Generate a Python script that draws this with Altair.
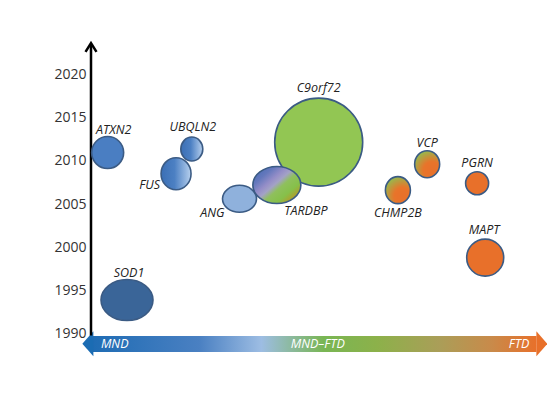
import altair as alt
import pandas as pd

# ---- data ----
genes = ["SOD1", "ATXN2", "FUS", "UBQLN2", "ANG", "C9orf72", "TARDBP", "CHMP2B", "VCP", "PGRN", "MAPT"]
spectrum = [8.0, 3.7, 18.9, 22.4, 33.0, 50.6, 41.3, 68.2, 74.7, 85.8, 87.6]   # MND (0) -> FTD (100)
year = [1993.9, 2010.95, 2008.5, 2011.35, 2005.6, 2012.15, 2007.2, 2006.6, 2009.6, 2007.4, 1998.8]
bubble_w = [52, 32, 30, 22, 34, 88, 48, 25, 25, 23, 37]
bubble_h = [41, 32, 32, 24, 27, 88, 37, 27, 27, 23, 37]
fill_key = ["sod1", "blue", "blue_grad", "blue_grad", "light", "green", "tardbp", "go_grad", "go_grad", "orange", "orange"]

label_dx = [2, 6, -16, 1, -15, 0, 29, 0, 0, 0, -1]
label_dy = [-27, -23, 11, -22, 14, -54, 26, 23, -21, -20, -28]
label_align = ["center", "center", "right", "center", "right", "center", "center", "center", "center", "center", "center"]

tick_years = [1990, 1995, 2000, 2005, 2010, 2015, 2020]
bar_labels = ["MND", "MND–FTD", "FTD"]
bar_label_x = [2.2, 50.4, 97.4]
bar_label_align = ["left", "center", "right"]

# ---- styles ----
solid_fill = {"sod1": "#3a6598", "blue": "#4a7ec2", "light": "#8fb1dc", "green": "#92c653", "orange": "#e8702a"}
grad_fill = {
    "blue_grad": alt.LinearGradient(gradient="linear", x1=0, y1=0, x2=1, y2=0, stops=[
        alt.GradientStop(color="#3b6fb5", offset=0), alt.GradientStop(color="#4c80c3", offset=0.45),
        alt.GradientStop(color="#b7d0ee", offset=1)]),
    "tardbp": alt.LinearGradient(gradient="linear", x1=0.05, y1=0.1, x2=1, y2=0.95, stops=[
        alt.GradientStop(color="#4a6db5", offset=0), alt.GradientStop(color="#6478bc", offset=0.18),
        alt.GradientStop(color="#958ec8", offset=0.34), alt.GradientStop(color="#a3a2c6", offset=0.44),
        alt.GradientStop(color="#8fc05c", offset=0.55), alt.GradientStop(color="#86c04a", offset=0.72),
        alt.GradientStop(color="#b09e2c", offset=0.86), alt.GradientStop(color="#d0801e", offset=1)]),
    "go_grad": alt.RadialGradient(gradient="radial", x1=0.68, y1=0.72, r1=0, x2=0.68, y2=0.72, r2=0.8, stops=[
        alt.GradientStop(color="#e8702a", offset=0), alt.GradientStop(color="#e8742a", offset=0.4),
        alt.GradientStop(color="#8cc152", offset=1)]),
}
bar_gradient = alt.LinearGradient(gradient="linear", x1=0, y1=0, x2=1, y2=0, stops=[
    alt.GradientStop(color="#1f6cb4", offset=0), alt.GradientStop(color="#4a80c2", offset=0.24),
    alt.GradientStop(color="#9dbde3", offset=0.38), alt.GradientStop(color="#79b654", offset=0.52),
    alt.GradientStop(color="#8cb14a", offset=0.64), alt.GradientStop(color="#aa9e58", offset=0.78),
    alt.GradientStop(color="#c98a4a", offset=0.9), alt.GradientStop(color="#e8702a", offset=1)])

STROKE = "#3b5b84"
FONT = "Open Sans"

# decoration anchors in data units
AXIS_BOTTOM, AXIS_TOP, CHEVRON_Y = 1989.8, 2023.4, 2023.1
BAR_X0, BAR_X1, BAR_Y0, BAR_Y1, BAR_YC = 0.4, 99.0, 1987.9, 1989.75, 1988.83
ARROW_L, ARROW_R = -0.7, 100.2


def ellipse_path(r):
    k = 0.5523
    return (f"M-1,0C-1,{-k*r:.4f} {-k:.4f},{-r:.4f} 0,{-r:.4f}"
            f"C{k:.4f},{-r:.4f} 1,{-k*r:.4f} 1,0"
            f"C1,{k*r:.4f} {k:.4f},{r:.4f} 0,{r:.4f}"
            f"C{-k:.4f},{r:.4f} -1,{k*r:.4f} -1,0Z")


df = pd.DataFrame({"gene": genes, "spectrum": spectrum, "year": year,
                   "w": bubble_w, "h": bubble_h, "fk": fill_key})
df["size"] = df["w"] ** 2
df["shape"] = [ellipse_path(h / w) for w, h in zip(bubble_w, bubble_h)]
df["fill"] = [solid_fill.get(k, "#000000") for k in fill_key]

W = 446
xs = alt.Scale(domain=[0, W / 4.5])
ys = alt.Scale(domain=[1985, 2025])
yaxis = alt.Axis(values=tick_years, domain=False, ticks=False, grid=False,
                 title=None, labelFont=FONT, labelFontSize=14,
                 labelColor="#333333", labelPadding=5, format="d")


def XF(f):
    return alt.X(f, scale=xs, axis=None)


def YF(f):
    return alt.Y(f, scale=ys, axis=yaxis)


layers = []

# gradient bar at the bottom
bar_df = pd.DataFrame({"x0": [BAR_X0], "x1": [BAR_X1], "y0": [BAR_Y0], "y1": [BAR_Y1]})
layers.append(alt.Chart(bar_df).mark_rect(fill=bar_gradient).encode(
    x=XF("x0:Q"), x2="x1:Q", y=YF("y0:Q"), y2="y1:Q"))

arrow_df = pd.DataFrame({"x": [ARROW_L, ARROW_R], "y": [BAR_YC, BAR_YC],
                         "shape": ["M-0.44,0L0.44,-1L0.44,1Z", "M0.44,0L-0.44,-1L-0.44,1Z"],
                         "c": ["#1b6cb3", "#e8702a"]})
layers.append(alt.Chart(arrow_df).mark_point(filled=True, opacity=1, size=625).encode(
    x=XF("x:Q"), y=YF("y:Q"),
    shape=alt.Shape("shape:N", scale=None), fill=alt.Fill("c:N", scale=None)))

for lab, lx, al in zip(bar_labels, bar_label_x, bar_label_align):
    layers.append(alt.Chart(pd.DataFrame({"x": [lx], "y": [BAR_YC], "t": [lab]})).mark_text(
        align=al, baseline="middle", font=FONT, fontSize=12.5, fontStyle="italic", color="white").encode(
        x=XF("x:Q"), y=YF("y:Q"), text="t:N"))

# vertical year axis with arrow
axis_df = pd.DataFrame({"x": [0], "y0": [AXIS_BOTTOM], "y1": [AXIS_TOP]})
layers.append(alt.Chart(axis_df).mark_rule(color="black", strokeWidth=2.5).encode(
    x=XF("x:Q"), y=YF("y0:Q"), y2="y1:Q"))
chev_df = pd.DataFrame({"x": [0], "y": [CHEVRON_Y]})
layers.append(alt.Chart(chev_df).mark_point(shape="M-1,0.8L0,-0.8L1,0.8", filled=False, size=121,
                                            color="black", strokeWidth=2.5, opacity=1,
                                            strokeJoin="miter", strokeCap="butt").encode(
    x=XF("x:Q"), y=YF("y:Q")))

# bubbles: solid ones first, gradient ones on top
solid_keys = list(solid_fill.keys())
layers.append(alt.Chart(df).transform_filter(alt.FieldOneOfPredicate(field="fk", oneOf=solid_keys))
              .mark_point(filled=True, opacity=1, stroke=STROKE, strokeWidth=1.6).encode(
    x=XF("spectrum:Q"), y=YF("year:Q"), size=alt.Size("size:Q", scale=None),
    shape=alt.Shape("shape:N", scale=None), fill=alt.Fill("fill:N", scale=None)))
for k, g in grad_fill.items():
    layers.append(alt.Chart(df).transform_filter(alt.datum.fk == k)
                  .mark_point(filled=True, opacity=1, fill=g, stroke=STROKE, strokeWidth=1.6).encode(
        x=XF("spectrum:Q"), y=YF("year:Q"),
        size=alt.Size("size:Q", scale=None), shape=alt.Shape("shape:N", scale=None)))

# gene labels
for gname, dx, dy, al in zip(genes, label_dx, label_dy, label_align):
    layers.append(alt.Chart(df).transform_filter(alt.datum.gene == gname)
                  .mark_text(dx=dx, dy=dy, align=al, baseline="middle", font=FONT, fontSize=12.5,
                             fontStyle="italic", color="#222222").encode(
        x=XF("spectrum:Q"), y=YF("year:Q"), text="gene:N"))

chart = alt.layer(*layers).properties(
    width=W, height=346,
    padding={"left": 83, "top": 23, "right": 539 - 83 - W, "bottom": 20},
    autosize=alt.AutoSizeParams(type="none"),
).configure_view(stroke=None)

chart.save("out.html", embed_options={"renderer": "svg", "actions": False})
